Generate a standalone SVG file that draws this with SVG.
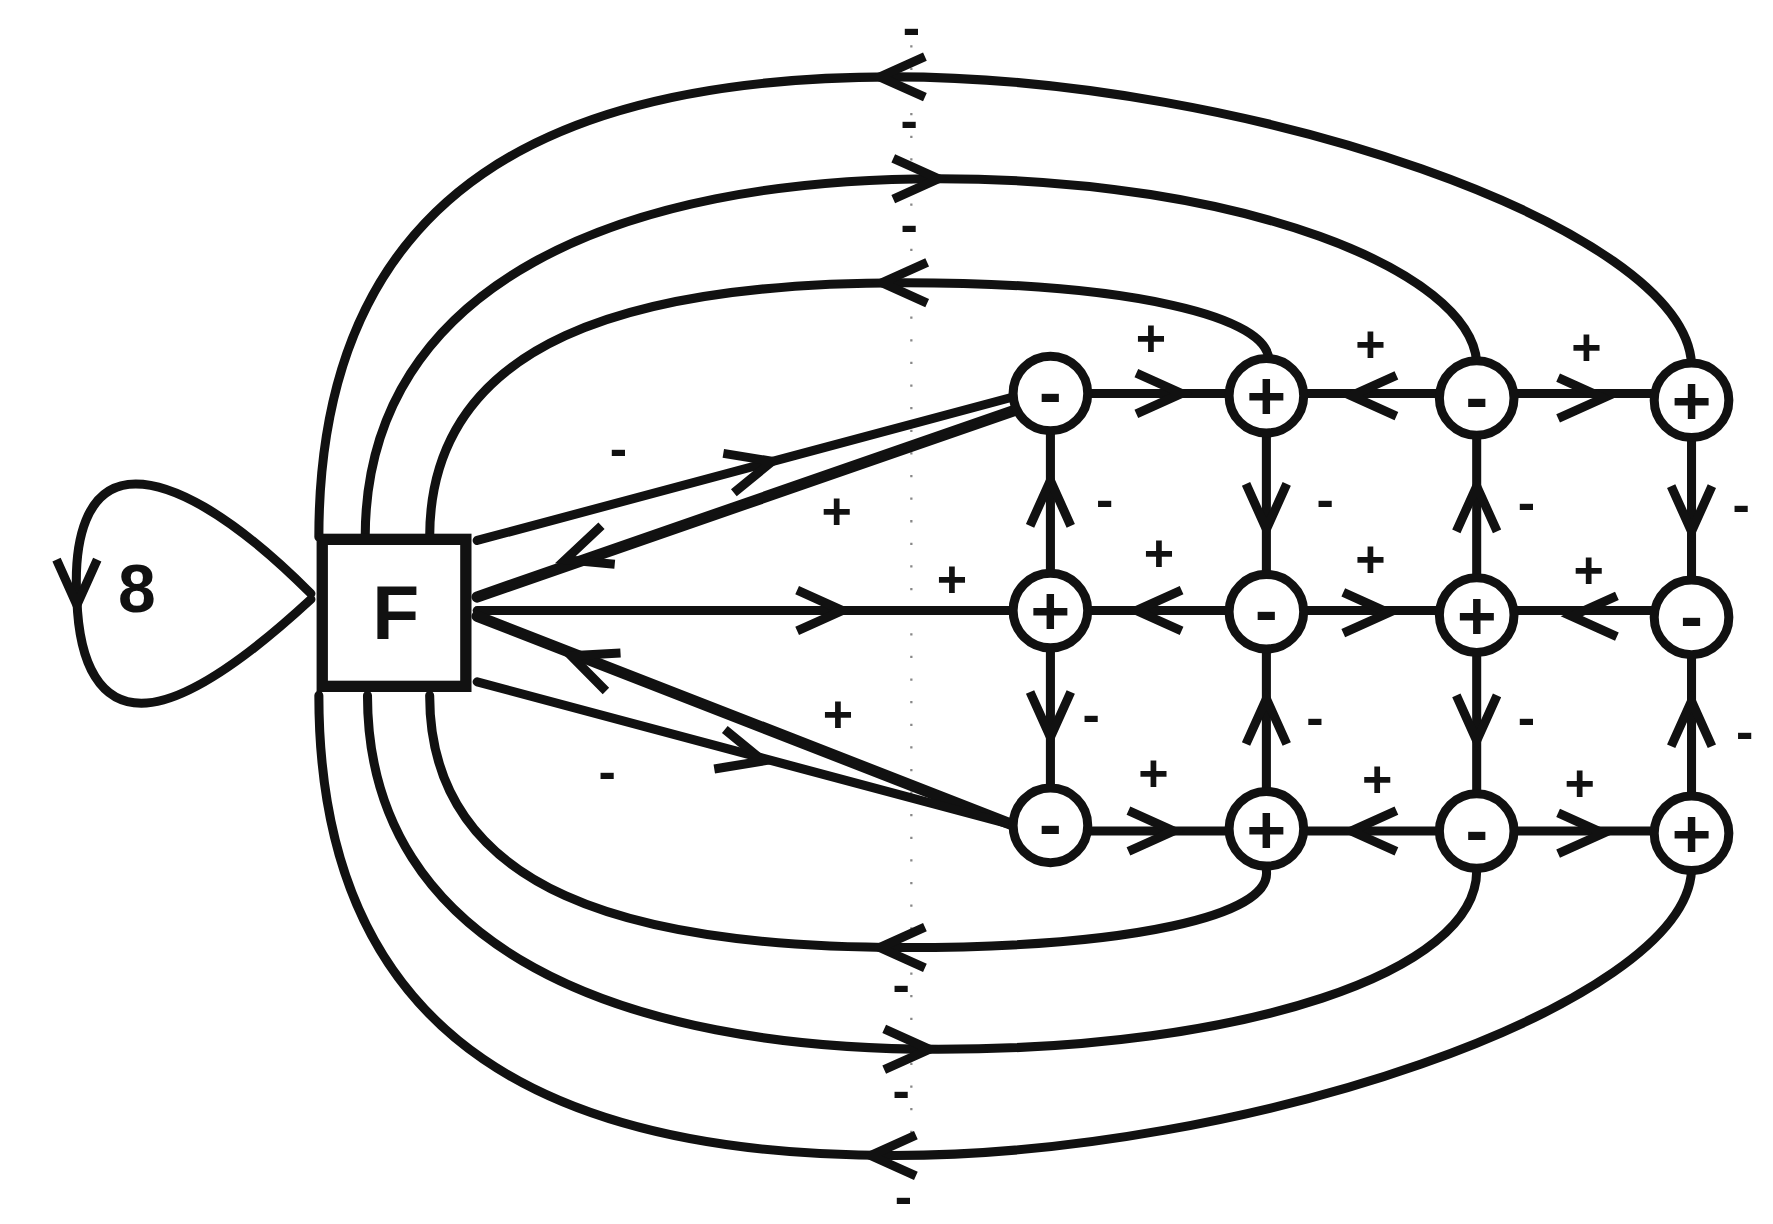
<svg xmlns="http://www.w3.org/2000/svg" xmlns:xlink="http://www.w3.org/1999/xlink" width="1773" height="1224" viewBox="0 0 1773 1224">
<style>
.e{fill:none;stroke:#111;stroke-width:8;stroke-linecap:round}
.n{fill:#fff;stroke:#111;stroke-width:8}
.s{font-family:"Liberation Sans",Arial,sans-serif;font-weight:bold;font-size:60px;text-anchor:middle;fill:#111}
.l{font-family:"Liberation Sans",Arial,sans-serif;font-weight:bold;font-size:46px;text-anchor:middle;fill:#111}
.dot{stroke:#888;stroke-width:2;stroke-dasharray:2 18;fill:none}
</style>
<defs>
<path id="ch" d="M-40,-18 L0,0 L-40,18" fill="none" stroke="#111" stroke-width="8"/>
</defs>
<rect width="1773" height="1224" fill="#fff"/>
<g transform="scale(1.1307)">
<path class="dot" d="M806,40 V1060"/>
<g id="connectors">
<path class="e" d="M282,475 C282,160 500,68 790,68 C1100,68 1490,200 1496,322"/>
<path class="e" d="M323,475 C323,250 550,158 830,158 C1100,158 1300,240 1306,320"/>
<path class="e" d="M380,475 C380,300 560,250 800,250 C1000,250 1125,280 1122,320"/>
<path class="e" d="M380,615 C380,790 560,838 800,838 C1000,838 1125,810 1120,770"/>
<path class="e" d="M325,615 C325,840 550,928 830,928 C1100,928 1306,860 1306,770"/>
<path class="e" d="M282,615 C282,930 500,1022 790,1022 C1100,1022 1490,890 1496,770"/>
<path class="e" d="M275,525 C200,450 150,428 120,428 C75,428 65,480 68,530 C70,590 90,622 125,622 C160,622 210,590 275,530"/>
<path class="e" d="M422,478 L900,350"/>
<path class="e" style="stroke-width:10" d="M900,362 L422,528"/>
<path class="e" d="M422,540 L897,540"/>
<path class="e" style="stroke-width:10" d="M897,730 L422,545"/>
<path class="e" d="M422,603 L897,730"/>
<path class="e" d="M929,348 H1496 M929,540 H1496 M929,735 H1496 M929,348 V735 M1120,348 V735 M1306,348 V735 M1496,348 V735"/>
<use xlink:href="#ch" transform="translate(778,68) rotate(180)"/>
<use xlink:href="#ch" transform="translate(830,158)"/>
<use xlink:href="#ch" transform="translate(780,250) rotate(180)"/>
<use xlink:href="#ch" transform="translate(778,838) rotate(180)"/>
<use xlink:href="#ch" transform="translate(822,928)"/>
<use xlink:href="#ch" transform="translate(770,1022) rotate(180)"/>
<use xlink:href="#ch" transform="translate(68,535) rotate(90)"/>
<use xlink:href="#ch" transform="translate(683,408) rotate(-15)"/>
<use xlink:href="#ch" transform="translate(500,495) rotate(161)"/>
<use xlink:href="#ch" transform="translate(745,540)"/>
<use xlink:href="#ch" transform="translate(505,580) rotate(-159)"/>
<use xlink:href="#ch" transform="translate(675,673) rotate(15)"/>
<use xlink:href="#ch" transform="translate(1045,348)"/>
<use xlink:href="#ch" transform="translate(1195,350) rotate(180)"/>
<use xlink:href="#ch" transform="translate(1418,352)"/>
<use xlink:href="#ch" transform="translate(1005,540) rotate(180)"/>
<use xlink:href="#ch" transform="translate(1228,542)"/>
<use xlink:href="#ch" transform="translate(1390,545) rotate(180)"/>
<use xlink:href="#ch" transform="translate(1038,735)"/>
<use xlink:href="#ch" transform="translate(1195,735) rotate(180)"/>
<use xlink:href="#ch" transform="translate(1418,737)"/>
<use xlink:href="#ch" transform="translate(929,425) rotate(-90)"/>
<use xlink:href="#ch" transform="translate(929,652) rotate(90)"/>
<use xlink:href="#ch" transform="translate(1120,468) rotate(90)"/>
<use xlink:href="#ch" transform="translate(1120,618) rotate(-90)"/>
<use xlink:href="#ch" transform="translate(1306,430) rotate(-90)"/>
<use xlink:href="#ch" transform="translate(1306,655) rotate(90)"/>
<use xlink:href="#ch" transform="translate(1496,470) rotate(90)"/>
<use xlink:href="#ch" transform="translate(1496,620) rotate(-90)"/>
</g>
<g id="labels">
<text class="l" x="806" y="40">-</text><text class="l" x="804" y="122">-</text><text class="l" x="804" y="214">-</text>
<text class="l" x="797" y="886">-</text><text class="l" x="797" y="980">-</text><text class="l" x="799" y="1074">-</text>
<text class="l" x="547" y="412">-</text><text class="l" x="740" y="468">+</text><text class="l" x="842" y="528">+</text>
<text class="l" x="741" y="647">+</text><text class="l" x="537" y="698">-</text>
<text class="l" x="1018" y="315">+</text><text class="l" x="1212" y="320">+</text><text class="l" x="1403" y="323">+</text>
<text class="l" x="1025" y="505">+</text><text class="l" x="1212" y="510">+</text><text class="l" x="1405" y="520">+</text>
<text class="l" x="1020" y="700">+</text><text class="l" x="1218" y="705">+</text><text class="l" x="1397" y="708">+</text>
<text class="l" x="977" y="457">-</text><text class="l" x="965" y="647">-</text><text class="l" x="1172" y="457">-</text><text class="l" x="1163" y="650">-</text>
<text class="l" x="1350" y="460">-</text><text class="l" x="1350" y="650">-</text><text class="l" x="1540" y="462">-</text><text class="l" x="1543" y="662">-</text>
</g>
<g id="F"><rect x="285" y="477" width="127" height="130" fill="#fff" stroke="#111" stroke-width="10"/><text class="s" x="350" y="565" style="font-size:68px">F</text></g>
<g id="eight"><text class="s" x="121" y="541" style="font-size:60px">8</text></g>
<g id="n11"><circle class="n" cx="929" cy="348" r="33"/><text class="s" x="929" y="368">-</text></g>
<g id="n12"><circle class="n" cx="1120" cy="350" r="33"/><text class="s" x="1120" y="371">+</text></g>
<g id="n13"><circle class="n" cx="1306" cy="352" r="33"/><text class="s" x="1306" y="372">-</text></g>
<g id="n14"><circle class="n" cx="1496" cy="354" r="33"/><text class="s" x="1496" y="375">+</text></g>
<g id="n21"><circle class="n" cx="929" cy="540" r="33"/><text class="s" x="929" y="561">+</text></g>
<g id="n22"><circle class="n" cx="1120" cy="541" r="33"/><text class="s" x="1120" y="561">-</text></g>
<g id="n23"><circle class="n" cx="1306" cy="544" r="33"/><text class="s" x="1306" y="565">+</text></g>
<g id="n24"><circle class="n" cx="1496" cy="546" r="33"/><text class="s" x="1496" y="566">-</text></g>
<g id="n31"><circle class="n" cx="929" cy="730" r="33"/><text class="s" x="929" y="750">-</text></g>
<g id="n32"><circle class="n" cx="1120" cy="733" r="33"/><text class="s" x="1120" y="754">+</text></g>
<g id="n33"><circle class="n" cx="1306" cy="735" r="33"/><text class="s" x="1306" y="755">-</text></g>
<g id="n34"><circle class="n" cx="1496" cy="737" r="33"/><text class="s" x="1496" y="758">+</text></g>
</g>
</svg>
